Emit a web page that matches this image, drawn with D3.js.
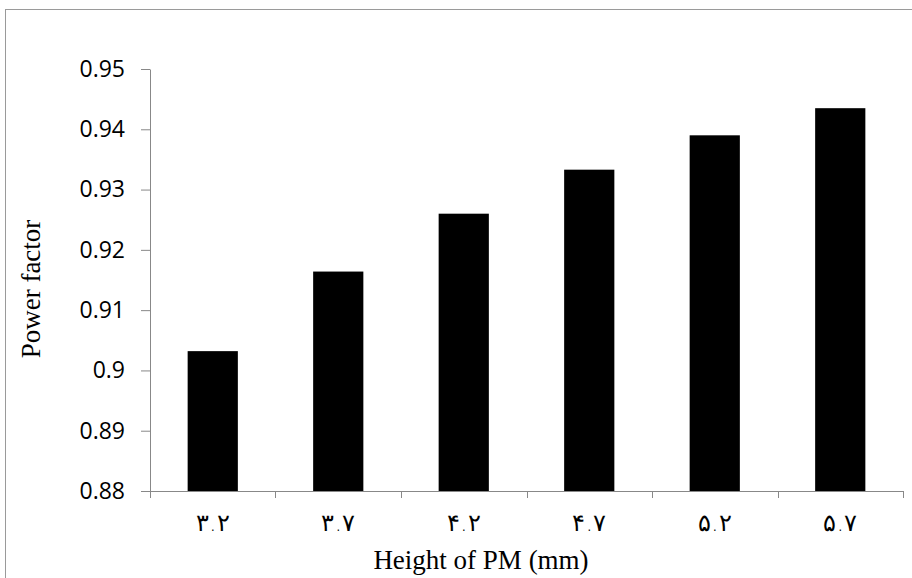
<!DOCTYPE html>
<html>
<head>
<meta charset="utf-8">
<script src="https://cdn.jsdelivr.net/npm/d3@7"></script>
<style>
  html, body { margin: 0; padding: 0; background: #fff; }
  svg { display: block; }
</style>
</head>
<body>
<svg id="chart" width="912" height="578"></svg>
<script>
// Power factor for each permanent-magnet height
const categories = ["۳.۲", "۳.۷", "۴.۲", "۴.۷", "۵.۲", "۵.۷"];
const powerFactor = [0.9032, 0.9164, 0.926, 0.9333, 0.939, 0.9435];
const yTicks = [0.88, 0.89, 0.90, 0.91, 0.92, 0.93, 0.94, 0.95];
const yTickLabels = ["0.88", "0.89", "0.9", "0.91", "0.92", "0.93", "0.94", "0.95"];

const svg = d3.select("#chart");
const margin = { left: 150, right: 9, top: 69, bottom: 87 };
const W = 912, H = 578;
const plotW = W - margin.left - margin.right;
const plotH = H - margin.top - margin.bottom;

// outer chart frame
svg.append("rect")
  .attr("x", 5.5).attr("y", 9.5)
  .attr("width", 920).attr("height", 600)
  .attr("fill", "none").attr("stroke", "#9a9a9a").attr("stroke-width", 1);

const g = svg.append("g").attr("transform", `translate(${margin.left},${margin.top})`);

const x = d3.scaleBand().domain(categories).range([0, plotW])
  .paddingInner(0.6).paddingOuter(0.3);
const y = d3.scaleLinear().domain([0.88, 0.95]).range([plotH, 0]);

// bars
g.selectAll("rect.bar").data(powerFactor).join("rect")
  .attr("class", "bar")
  .attr("x", (d, i) => x(categories[i]))
  .attr("y", d => y(d))
  .attr("width", x.bandwidth())
  .attr("height", d => y(0.88) - y(d))
  .attr("fill", "#000");

// y axis
const yAxis = g.append("g")
  .call(d3.axisLeft(y).tickValues(yTicks).tickFormat((d, i) => yTickLabels[i])
    .tickSize(9).tickSizeOuter(0).tickPadding(16));
yAxis.select(".domain").attr("stroke", "#888");
yAxis.selectAll(".tick line").attr("stroke", "#888");
yAxis.selectAll(".tick text")
  .attr("font-family", "'Open Sans', 'Noto Sans', sans-serif")
  .attr("font-size", 23).attr("fill", "#000");

// x axis: ticks sit on the category boundaries
const step = x.step();
const xAxisG = g.append("g").attr("transform", `translate(0,${plotH})`);
xAxisG.append("line")
  .attr("x1", 0).attr("x2", plotW).attr("y1", 0.5).attr("y2", 0.5)
  .attr("stroke", "#888");
const bounds = d3.range(categories.length + 1).map(i => x(categories[0]) - x.bandwidth() * 0.75 + i * step);
xAxisG.selectAll("line.tick").data(bounds).join("line")
  .attr("class", "tick")
  .attr("x1", d => Math.round(d) + 0.5).attr("x2", d => Math.round(d) + 0.5)
  .attr("y1", 0).attr("y2", 7)
  .attr("stroke", "#888");
xAxisG.selectAll("text").data(categories).join("text")
  .attr("x", d => x(d) + x.bandwidth() / 2)
  .attr("y", 40)
  .attr("text-anchor", "middle")
  .attr("font-family", "'DejaVu Sans', sans-serif")
  .attr("font-size", 24)
  .attr("font-weight", "200")
  .attr("fill", "#000")
  .text(d => d);

// axis titles
svg.append("text")
  .attr("x", 481).attr("y", 569)
  .attr("text-anchor", "middle")
  .attr("font-family", "'Liberation Serif', 'Times New Roman', serif")
  .attr("font-size", 27).attr("fill", "#000")
  .text("Height of PM (mm)");

svg.append("text")
  .attr("transform", "translate(40,289) rotate(-90)")
  .attr("text-anchor", "middle")
  .attr("font-family", "'Liberation Serif', 'Times New Roman', serif")
  .attr("font-size", 27).attr("fill", "#000")
  .text("Power factor");
</script>
</body>
</html>
